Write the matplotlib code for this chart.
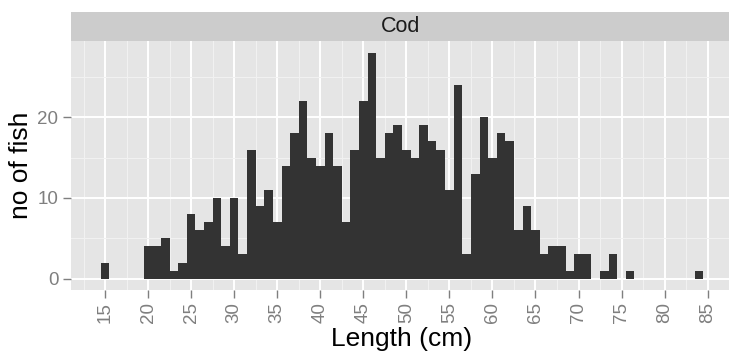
import matplotlib
matplotlib.use("Agg")
import matplotlib.pyplot as plt
from matplotlib.ticker import MultipleLocator

# ---------------- DATA ----------------
lengths = list(range(15, 85))
counts = [2, 0, 0, 0, 0, 4, 4, 5, 1, 2,
          8, 6, 7, 10, 4, 10, 3, 16, 9, 11,
          7, 14, 18, 22, 15, 14, 18, 14, 7, 16,
          22, 28, 15, 18, 19, 16, 15, 19, 17, 16,
          11, 24, 3, 13, 20, 15, 18, 17, 6, 9,
          6, 3, 4, 4, 1, 3, 3, 0, 1, 3,
          0, 1, 0, 0, 0, 0, 0, 0, 0, 1]
x_ticks = list(range(15, 90, 5))
y_ticks = [0, 10, 20]
facet = "Cod"

# ---------------- FIGURE ----------------
W, H = 729, 356
fig = plt.figure(figsize=(W / 100, H / 100), dpi=100)
plt.rcParams['font.family'] = ['Liberation Sans', 'DejaVu Sans']

left, right = 70.6, 733.5
top, bottom = 41.4, 290
ax = fig.add_axes([left / W, 1 - bottom / H, (right - left) / W, (bottom - top) / H])

ax.set_facecolor("#E5E5E5")
ax.set_xlim(11, 88)
ax.set_ylim(-1.4, 29.4)

ax.xaxis.set_minor_locator(MultipleLocator(2.5))
ax.yaxis.set_minor_locator(MultipleLocator(5))
ax.set_xticks(x_ticks)
ax.set_yticks(y_ticks)
ax.grid(which="major", color="white", linewidth=1.4)
ax.grid(which="minor", color="#F2F2F2", linewidth=0.7)
ax.set_axisbelow(True)
for s in ax.spines.values():
    s.set_visible(False)

ax.bar(lengths, counts, width=1.0, color="#333333", linewidth=0)

ax.tick_params(which="major", length=5.8, width=1.0, color="#7F7F7F",
               labelcolor="#7F7F7F", labelsize=13.5, pad=3)
ax.tick_params(which="minor", length=0)
ax.tick_params(axis="x", labelrotation=90)

ax.set_xlabel("Length (cm)", fontsize=19, color="black", labelpad=3)
ax.set_ylabel("no of fish", fontsize=19, color="black", labelpad=3)

# ---------------- STRIP ----------------
strip = fig.add_axes([left / W, 1 - top / H, (right - left) / W, (top - 12) / H])
strip.set_facecolor("#CCCCCC")
strip.set_xticks([])
strip.set_yticks([])
for s in strip.spines.values():
    s.set_visible(False)
strip.text((401 - left) / (right - left), 0.5, facet, transform=strip.transAxes,
           ha="center", va="center", fontsize=15.5, color="#1A1A1A")

fig.savefig("out.png", dpi=100)
